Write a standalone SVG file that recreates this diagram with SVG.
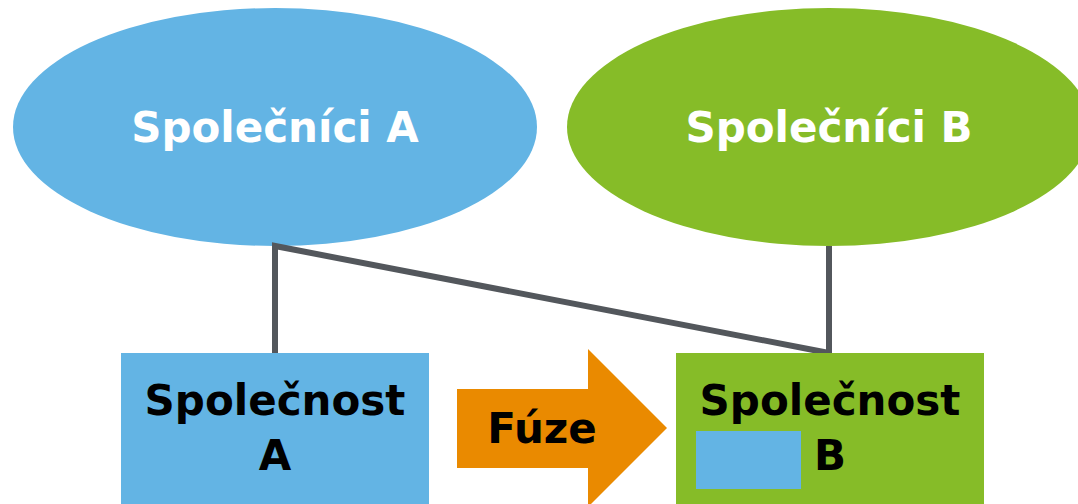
<svg xmlns="http://www.w3.org/2000/svg" width="1078" height="504" viewBox="0 0 1078 504">
<style>
.t{font-family:"DejaVu Sans","Verdana",sans-serif;font-weight:bold;font-size:42px;text-anchor:middle}
.w{fill:#ffffff}
.k{fill:#000000}
.ln{stroke:#53575c;stroke-width:6;fill:none;stroke-linejoin:miter}
</style>
<rect width="1078" height="504" fill="#ffffff"/>
<g id="spolecnici-a">
<ellipse cx="275" cy="127" rx="262" ry="119" fill="#63b4e4"/>
<text class="t w" x="275" y="142">Společníci A</text>
</g>
<g id="spolecnici-b">
<ellipse cx="829" cy="127" rx="262" ry="119" fill="#86bc28"/>
<text class="t w" x="829" y="142">Společníci B</text>
</g>
<g id="connectors">
<path class="ln" d="M275,353 L275,246 L829,353 L829,246"/>
</g>
<g id="spolecnost-a">
<rect x="121" y="353" width="308" height="160" fill="#63b4e4"/>
<text class="t k" x="275" y="415">Společnost</text>
<text class="t k" x="275" y="470">A</text>
</g>
<g id="fuze">
<polygon points="457,389 588,389 588,349 667,428 588,507 588,468 457,468" fill="#ea8a00"/>
<text class="t k" x="542" y="443">Fúze</text>
</g>
<g id="spolecnost-b">
<rect x="676" y="353" width="308" height="160" fill="#86bc28"/>
<text class="t k" x="830" y="415">Společnost</text>
<rect x="696" y="431" width="105" height="58" fill="#63b4e4"/>
<text class="t k" x="830" y="470">B</text>
</g>
</svg>
